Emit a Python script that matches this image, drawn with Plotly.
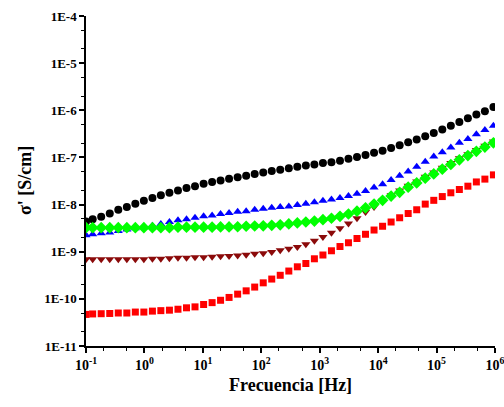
import plotly.graph_objects as go

# Frequency [Hz]
freq = [0.1, 0.130, 0.182, 0.255, 0.357, 0.500, 0.699, 0.978, 1.37, 1.91,
        2.68, 3.75, 5.25, 7.34, 10.3, 14.4, 20.1, 28.1, 39.4, 55.1,
        77.1, 108, 151, 211, 296, 414, 579, 811, 1135, 1588,
        2223, 3105, 4345, 6081, 8511, 11912, 16672, 23335, 32659, 45709,
        63973, 89536, 125314, 175388, 245471, 343558, 479733, 671429, 939723]

# log10 of sigma' [S/cm]
log_black = [-8.36, -8.31, -8.26, -8.19, -8.11, -8.05, -7.98, -7.92, -7.86, -7.80,
             -7.75, -7.70, -7.65, -7.61, -7.56, -7.52, -7.49, -7.45, -7.42, -7.39,
             -7.35, -7.32, -7.29, -7.26, -7.23, -7.20, -7.17, -7.15, -7.12, -7.10,
             -7.07, -7.03, -6.99, -6.95, -6.90, -6.86, -6.80, -6.74, -6.68, -6.62,
             -6.55, -6.48, -6.41, -6.33, -6.25, -6.17, -6.09, -6.02, -5.93]
log_blue = [-8.65, -8.63, -8.61, -8.59, -8.56, -8.53, -8.50, -8.47, -8.45, -8.41,
            -8.37, -8.33, -8.31, -8.28, -8.25, -8.23, -8.20, -8.18, -8.15, -8.14,
            -8.11, -8.09, -8.07, -8.05, -8.04, -8.01, -7.98, -7.95, -7.92, -7.89,
            -7.86, -7.82, -7.77, -7.71, -7.64, -7.57, -7.48, -7.39, -7.30, -7.20,
            -7.09, -6.98, -6.89, -6.79, -6.69, -6.61, -6.51, -6.42, -6.33]
log_green = [-8.49, -8.49, -8.49, -8.49, -8.49, -8.49, -8.49, -8.49, -8.49, -8.49,
             -8.49, -8.48, -8.48, -8.48, -8.48, -8.48, -8.475, -8.475, -8.47, -8.46,
             -8.455, -8.45, -8.44, -8.43, -8.41, -8.39, -8.37, -8.35, -8.32, -8.29,
             -8.25, -8.20, -8.14, -8.07, -7.99, -7.91, -7.82, -7.74, -7.63, -7.54,
             -7.44, -7.35, -7.25, -7.15, -7.05, -6.96, -6.87, -6.78, -6.69]
log_darkred = [-9.16, -9.16, -9.16, -9.16, -9.16, -9.16, -9.16, -9.16, -9.15, -9.15,
               -9.14, -9.13, -9.13, -9.12, -9.115, -9.105, -9.095, -9.09, -9.08, -9.065,
               -9.045, -9.03, -9.005, -8.97, -8.935, -8.90, -8.84, -8.77, -8.69, -8.60,
               -8.50, -8.40, -8.29, -8.16, -8.05, -7.92, -7.80, -7.70, -7.60, -7.51,
               -7.41, -7.32, -7.22, -7.12, -7.02, -6.93, -6.84, -6.75, -6.66]
log_red = [-10.33, -10.32, -10.315, -10.31, -10.30, -10.30, -10.28, -10.28, -10.26, -10.25,
           -10.24, -10.22, -10.19, -10.17, -10.12, -10.08, -10.03, -9.97, -9.90, -9.83,
           -9.75, -9.66, -9.58, -9.50, -9.41, -9.32, -9.25, -9.15, -9.07, -8.98,
           -8.89, -8.81, -8.72, -8.63, -8.54, -8.46, -8.37, -8.28, -8.19, -8.11,
           -7.99, -7.91, -7.83, -7.75, -7.68, -7.61, -7.52, -7.46, -7.37]

x_tickvals = [0.1, 1, 10, 100, 1000, 1e4, 1e5, 1e6]
x_ticktext = ["<b>10<sup>-1</sup></b>", "<b>10<sup>0</sup></b>", "<b>10<sup>1</sup></b>",
              "<b>10<sup>2</sup></b>", "<b>10<sup>3</sup></b>", "<b>10<sup>4</sup></b>",
              "<b>10<sup>5</sup></b>", "<b>10<sup>6</sup></b>"]
y_tickvals = [1e-11, 1e-10, 1e-9, 1e-8, 1e-7, 1e-6, 1e-5, 1e-4]
y_ticktext = ["<b>1E-11</b>", "<b>1E-10</b>", "<b>1E-9</b>", "<b>1E-8</b>",
              "<b>1E-7</b>", "<b>1E-6</b>", "<b>1E-5</b>", "<b>1E-4</b>"]

series = [
    (log_black, "circle", "#000000", 8),
    (log_red, "square", "#FF0000", 7),
    (log_darkred, "triangle-down", "#8B0A0A", 8),
    (log_blue, "triangle-up", "#0000FF", 8),
    (log_green, "diamond", "#00FF00", 9),
]

fig = go.Figure()
for vals, sym, col, sz in series:
    fig.add_trace(go.Scatter(
        x=freq, y=[10 ** v for v in vals], mode="markers",
        marker=dict(symbol=sym, color=col, size=sz, line=dict(width=0)),
        showlegend=False, hoverinfo="skip"))

font_main = "Liberation Serif"
fig.update_layout(
    width=504, height=407,
    margin=dict(l=86, r=9, t=16, b=61, autoexpand=False),
    paper_bgcolor="white", plot_bgcolor="white",
    font=dict(family=font_main, color="black"),
    annotations=[
        dict(text="<b>Frecuencia [Hz]</b>", xref="paper", yref="paper",
             x=0.5, y=0, yshift=-27, xanchor="center", yanchor="top",
             showarrow=False, font=dict(size=18, family=font_main, color="black")),
        dict(text="<b>σ' [S/cm]</b>", xref="paper", yref="paper",
             x=0, y=0.5, xshift=-49, xanchor="right", yanchor="middle", textangle=-90,
             showarrow=False, font=dict(size=18, family=font_main, color="black")),
    ],
)
fig.update_xaxes(
    type="log", range=[-1, 6], automargin=False,
    tickvals=x_tickvals, ticktext=x_ticktext, ticklabeloverflow="allow",
    tickfont=dict(size=14, family=font_main, color="black"),
    ticks="outside", ticklen=5, tickwidth=1.5, tickcolor="black",
    minor=dict(ticks="outside", ticklen=3, tickwidth=1, tickcolor="black", showgrid=False),
    showline=True, linecolor="black", linewidth=1.5, mirror=False,
    showgrid=False, zeroline=False,
)
fig.update_yaxes(
    type="log", range=[-11, -4], automargin=False,
    tickvals=y_tickvals, ticktext=y_ticktext, ticklabeloverflow="allow",
    tickfont=dict(size=13, family=font_main, color="black"),
    ticks="outside", ticklen=5, tickwidth=1.5, tickcolor="black",
    minor=dict(ticks="outside", ticklen=3, tickwidth=1, tickcolor="black", showgrid=False),
    showline=True, linecolor="black", linewidth=1.5, mirror=False,
    showgrid=False, zeroline=False,
)

fig.write_html("out.html", config={"displayModeBar": False},
               post_script="document.body.style.margin='0';")
